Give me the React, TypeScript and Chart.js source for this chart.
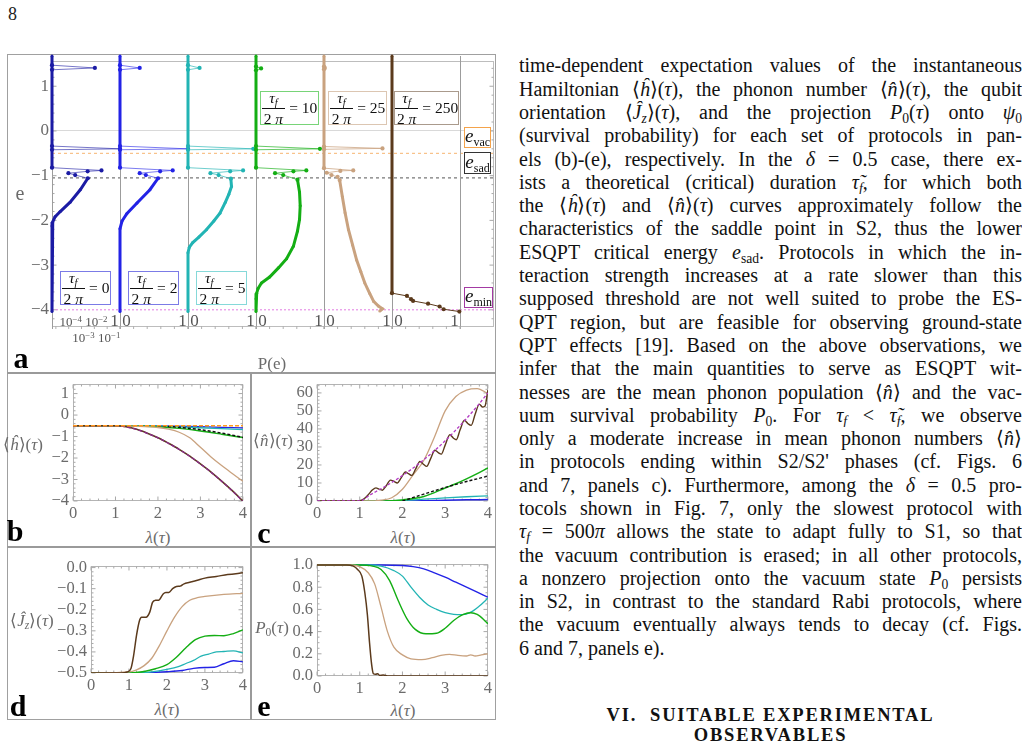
import React, { useEffect, useLayoutEffect, useRef } from "react";
import { Chart, registerables } from "chart.js";

Chart.register(...registerables);

// ---------------------------------------------------------------------------
// Panel a: energy distributions P(e) at the end of each ramp, [P, e] pairs.
// null separates disjoint runs of points.
// ---------------------------------------------------------------------------
const eAxisMin = -4.38;
const eAxisMax = 1.56;
const eVac = -0.5;
const eSad = -1.05;
const eMin = -4.0;
const logFloor = 5e-6;

const dist0Dense = [[logFloor, 1.56], [logFloor, -0.87], null, [3.1e-3, -1.1], [8.0e-4, -1.35], [1.3e-4, -1.62], [2.1e-5, -1.83], [8.6e-6, -1.94], [5.7e-6, -2.05], [logFloor, -2.14], [logFloor, -4.0]];
const dist0Spikes = [[logFloor, 1.36], [0.011, 1.3], [logFloor, 1.26], null, [logFloor, -0.4], [1.0, -0.46], [logFloor, -0.48], null, [logFloor, -0.87], [0.036, -0.93], [0.003, -0.95], [9.5e-5, -0.99], [3.2e-4, -1.03], [3.1e-3, -1.1]];

const dist2Dense = [[0, 1.56], [0, -0.87], null, [0.56, -1.1], [0.44, -1.35], [0.25, -1.64], [0.1, -1.87], [0.03, -2.03], [0, -2.2], [0, -4.0]];
const dist2Spikes = [[0, 1.36], [0.29, 1.3], [0, 1.26], null, [0, -0.4], [1.0, -0.46], [0, -0.48], null, [0, -0.87], [0.775, -0.93], [0.59, -0.95], [0.29, -0.99], [0.38, -1.03], [0.56, -1.1]];

const dist5Dense = [[0, 1.56], [0, -0.87], null, [0.63, -1.11], [0.64, -1.28], [0.6, -1.45], [0.55, -1.62], [0.47, -1.86], [0.38, -2.03], [0.27, -2.22], [0.16, -2.38], [0.07, -2.5], [0.02, -2.6], [0, -2.72], [0, -4.0]];
const dist5Spikes = [[0, 1.36], [0.17, 1.3], [0, 1.26], null, [0, -0.4], [0.96, -0.46], [0, -0.48], null, [0, -0.87], [0.81, -0.93], [0.62, -0.95], [0.33, -0.99], [0.45, -1.03], [0.63, -1.11]];

const dist10Dense = [[0, 1.56], [0, -0.87], null, [0.61, -1.13], [0.64, -1.4], [0.65, -1.7], [0.64, -2.0], [0.61, -2.25], [0.55, -2.58], [0.45, -2.85], [0.33, -3.05], [0.2, -3.25], [0.08, -3.38], [0.03, -3.5], [0.01, -3.6], [0, -3.72], [0, -4.0]];
const dist10Spikes = [[0, 1.33], [0.075, 1.29], [0, 1.25], null, [0, -0.4], [0.94, -0.46], [0, -0.48], null, [0, -0.87], [0.74, -0.93], [0.55, -0.95], [0.28, -0.99], [0.4, -1.03], [0.61, -1.13]];

const dist25Dense = [[0, 1.56], [0, -0.88], null, [0.23, -1.14], [0.27, -1.5], [0.31, -1.85], [0.36, -2.22], [0.42, -2.55], [0.48, -2.88], [0.54, -3.13], [0.6, -3.38], [0.67, -3.6], [0.73, -3.78], [0.8, -3.88], [0.86, -3.94], [0.82, -3.99]];
const dist25Spikes = [[0, 1.33], [0.012, 1.3], [0, 1.27], null, [0, -0.41], [0.86, -0.45], [0, -0.47], null, [0, -0.88], [0.43, -0.93], [0.24, -0.94], [0.04, -0.98], [0.11, -1.03], [0.2, -1.07], [0.23, -1.14]];

const dist250Dense = [[0, 1.56], [0, -3.6]];
const dist250Spikes = [[0, -3.6], [0.22, -3.66], [0.28, -3.73], [0.31, -3.77], [0.53, -3.83], [0.7, -3.89], [0.76, -3.95], [0.99, -4.0]];

// ---------------------------------------------------------------------------
// Panels b-e: observables versus λ(τ), [λ, value] pairs.
// ---------------------------------------------------------------------------
const lambdaTicks = [0, 1, 2, 3, 4];

// b: <h>(τ)
const hTau2 = [[0, -0.5], [1, -0.5], [2, -0.505], [2.5, -0.52], [3, -0.54], [3.5, -0.57], [4, -0.6]];
const hTau5 = [[0, -0.5], [1.5, -0.5], [2, -0.515], [2.5, -0.55], [3, -0.59], [3.5, -0.635], [4, -0.68]];
const hTau10 = [[0, -0.5], [1, -0.5], [1.5, -0.51], [2, -0.54], [2.5, -0.62], [3, -0.74], [3.5, -0.89], [4, -1.05]];
const hTau25 = [[0, -0.5], [1, -0.5], [1.5, -0.52], [2, -0.58], [2.25, -0.66], [2.5, -0.8], [2.75, -1.06], [3, -1.5], [3.25, -1.95], [3.5, -2.35], [3.75, -2.72], [4, -3.08]];
const hTau250 = [[0, -0.5], [1, -0.5], [1.25, -0.545], [1.5, -0.665], [1.75, -0.845], [2, -1.055], [2.25, -1.315], [2.5, -1.595], [2.75, -1.915], [3, -2.275], [3.25, -2.655], [3.5, -3.075], [3.75, -3.52], [4, -4.0]];
const hGround = [[0, -0.5], [1, -0.5], [1.25, -0.55], [1.5, -0.67], [1.75, -0.85], [2, -1.06], [2.25, -1.32], [2.5, -1.6], [2.75, -1.92], [3, -2.28], [3.25, -2.66], [3.5, -3.08], [3.75, -3.53], [4, -4.02]];
const hSaddle = [[2, -0.5], [2.5, -0.57], [3, -0.68], [3.5, -0.84], [4, -1.04]];
const hVacuum = [[0, -0.5], [4, -0.5]];

// c: <n>(τ)
const nTau2 = [[0, 0], [2, 0.05], [2.5, 0.2], [3, 0.45], [3.5, 0.65], [4, 0.8]];
const nTau5 = [[0, 0], [1.5, 0], [2, 0.35], [2.5, 1.0], [3, 1.7], [3.5, 2.35], [4, 2.8]];
const nTau10 = [[0, 0], [1.5, 0.05], [2, 0.6], [2.5, 2.5], [3, 7.2], [3.25, 9.6], [3.5, 12.3], [3.75, 15.2], [4, 18.4]];
const nTau25 = [[0, 0], [1.2, 0], [1.5, 0.5], [1.75, 1.8], [2, 6.5], [2.25, 14.5], [2.5, 22.5], [2.75, 35.5], [3, 50], [3.25, 58], [3.5, 61.6], [3.75, 62.4], [4, 59.6]];
const nTau250 = [[0, 0], [0.8, 0], [1.0, 0.1], [1.1, 1.2], [1.2, 3.5], [1.3, 6.2], [1.38, 7.3], [1.45, 6.6], [1.53, 6.0], [1.62, 8.5], [1.72, 11.6], [1.8, 10.9], [1.88, 10.0], [1.97, 12.8], [2.07, 16.1], [2.14, 15.2], [2.22, 14.2], [2.31, 17.8], [2.41, 21.9], [2.49, 20.4], [2.57, 19.2], [2.66, 23.5], [2.76, 28.2], [2.84, 26.8], [2.91, 26.0], [3.0, 31.0], [3.11, 36.8], [3.19, 35.0], [3.26, 34.0], [3.35, 39.5], [3.45, 44.8], [3.53, 43.0], [3.61, 42.0], [3.7, 48.0], [3.8, 53.8], [3.87, 52.2], [3.93, 52.6], [4.0, 61.5]];
const nGround = [[0, 0], [1, 0], [1.25, 3.5], [1.5, 6.8], [1.75, 10.3], [2, 14.1], [2.25, 18.3], [2.5, 22.9], [2.75, 27.9], [3, 33.4], [3.25, 39.4], [3.5, 45.8], [3.75, 52.6], [4, 60.0]];
const nSaddle = [[2, 0], [2.5, 3.8], [3, 7.5], [3.5, 10.8], [4, 13.8]];

// d: <Jz>(τ)
const jTau2 = [[0, -0.5], [1.5, -0.498], [2, -0.494], [2.4, -0.488], [2.7, -0.478], [3, -0.474], [3.25, -0.473], [3.5, -0.456], [3.75, -0.442], [4, -0.447]];
const jTau5 = [[0, -0.5], [1.2, -0.5], [1.6, -0.495], [2, -0.483], [2.3, -0.47], [2.5, -0.455], [2.7, -0.44], [2.9, -0.42], [3.1, -0.41], [3.3, -0.4], [3.5, -0.398], [3.75, -0.395], [4, -0.405]];
const jTau10 = [[0, -0.5], [1, -0.5], [1.4, -0.493], [1.7, -0.48], [2, -0.46], [2.25, -0.425], [2.5, -0.38], [2.75, -0.342], [3, -0.325], [3.25, -0.322], [3.5, -0.323], [3.75, -0.313], [4, -0.295]];
const jTau25 = [[0, -0.5], [1, -0.495], [1.2, -0.485], [1.4, -0.465], [1.6, -0.43], [1.8, -0.37], [2, -0.3], [2.2, -0.235], [2.4, -0.185], [2.6, -0.155], [2.8, -0.143], [3, -0.137], [3.5, -0.127], [4, -0.122]];
const jTau250 = [[0, -0.5], [0.8, -0.5], [0.95, -0.495], [1.05, -0.48], [1.12, -0.42], [1.2, -0.32], [1.28, -0.25], [1.33, -0.235], [1.45, -0.235], [1.55, -0.21], [1.62, -0.165], [1.7, -0.155], [1.78, -0.155], [1.9, -0.125], [1.97, -0.118], [2.05, -0.118], [2.15, -0.1], [2.25, -0.09], [2.35, -0.088], [2.45, -0.077], [2.6, -0.07], [2.8, -0.06], [3, -0.05], [3.3, -0.042], [3.6, -0.033], [4, -0.025]];

// e: P0(τ)
const pTau2 = [[0, 1], [1.5, 1], [2, 0.995], [2.25, 0.985], [2.5, 0.965], [2.75, 0.93], [3, 0.89], [3.25, 0.845], [3.5, 0.8], [3.75, 0.755], [4, 0.71]];
const pTau5 = [[0, 1], [1.2, 1], [1.5, 0.99], [1.8, 0.95], [2, 0.9], [2.2, 0.8], [2.4, 0.71], [2.6, 0.64], [2.8, 0.6], [3, 0.57], [3.2, 0.555], [3.4, 0.553], [3.6, 0.575], [3.8, 0.63], [4, 0.7]];
const pTau10 = [[0, 1], [1, 1], [1.3, 0.99], [1.5, 0.96], [1.7, 0.86], [1.9, 0.68], [2.1, 0.52], [2.3, 0.42], [2.55, 0.38], [2.8, 0.385], [3, 0.43], [3.2, 0.5], [3.4, 0.55], [3.6, 0.57], [3.75, 0.555], [3.9, 0.51], [4, 0.47]];
const pTau25 = [[0, 1], [0.8, 1], [1, 0.985], [1.2, 0.93], [1.35, 0.83], [1.5, 0.62], [1.65, 0.4], [1.8, 0.26], [2, 0.19], [2.2, 0.155], [2.45, 0.148], [2.7, 0.165], [2.9, 0.185], [3.1, 0.195], [3.3, 0.185], [3.5, 0.18], [3.6, 0.19], [3.7, 0.18], [3.85, 0.19], [4, 0.2]];
const pTau250 = [[0, 1], [0.7, 1], [0.85, 0.99], [0.95, 0.96], [1.05, 0.9], [1.12, 0.75], [1.18, 0.55], [1.23, 0.3], [1.28, 0.1], [1.32, 0.02], [1.37, 0.015], [1.42, 0.02], [1.47, 0.005], [1.55, 0.008], [1.65, 0], [4, 0]];

// ---------------------------------------------------------------------------
const SERIF = "'Liberation Serif', 'Times New Roman', Times, serif";
const TICK_GRAY = "#6b6b6b";
const C_T0 = "#1b1ba4";
const C_T2 = "#2323e6";
const C_T5 = "#22b4b4";
const C_T10 = "#14ae14";
const C_T25 = "#c9a27f";
const C_T250 = "#5b3a1c";
const C_GROUND = "#8a2a8a";
const C_VAC = "#ff9a1f";

const toPoints = (run: any[]) => run.map((p) => (p ? { x: p[0], y: p[1] } : { x: null, y: null }));
const minus = (s: string) => s.replace("-", "\u2212");

// frame with inward major / minor ticks, drawn beneath the curves
const frameTicks = {
  id: "frameTicks",
  beforeDatasetsDraw(chart: any, _args: any, opts: any) {
    const { ctx, chartArea: a, scales } = chart;
    const L = Math.round(a.left) + 0.5;
    const R = Math.round(a.right) - 0.5;
    const T = Math.round(a.top) + 0.5;
    const B = Math.round(a.bottom) - 0.5;
    ctx.save();
    ctx.lineWidth = 1;
    ctx.strokeStyle = opts.frameColor || "#b4b4b4";
    ctx.strokeRect(L, T, R - L, B - T);
    ctx.strokeStyle = "#a8a8a8";
    ctx.beginPath();
    const walk = (scale: any, minor: number, every: number, fn: (px: number, len: number) => void) => {
      const k0 = Math.ceil(scale.min / minor - 1e-6);
      const k1 = Math.floor(scale.max / minor + 1e-6);
      for (let k = k0; k <= k1; k++) {
        const px = scale.getPixelForValue(k * minor);
        fn(px, k % every === 0 ? 4 : 2);
      }
    };
    if (opts.xMinor) {
      walk(scales.x, opts.xMinor, opts.xEvery, (px, len) => {
        ctx.moveTo(px, B); ctx.lineTo(px, B - len);
        ctx.moveTo(px, T); ctx.lineTo(px, T + len);
      });
    }
    if (opts.yMinor) {
      walk(scales.y, opts.yMinor, opts.yEvery, (py, len) => {
        ctx.moveTo(L, py); ctx.lineTo(L + len, py);
        ctx.moveTo(R, py); ctx.lineTo(R - len, py);
      });
    }
    ctx.stroke();
    ctx.restore();
  },
};

// divider line on the left of every distribution strip, plus bottom ticks
const stripFrame = {
  id: "stripFrame",
  beforeDatasetsDraw(chart: any, _args: any, opts: any) {
    const { ctx, chartArea: a, scales } = chart;
    ctx.save();
    ctx.lineWidth = 1;
    ctx.strokeStyle = "#9c9c9c";
    ctx.beginPath();
    const l = Math.round(a.left) + 0.5;
    ctx.moveTo(l, a.top); ctx.lineTo(l, a.bottom);
    if (opts.rightEdge) {
      const r = Math.round(a.right) + 0.5;
      ctx.moveTo(r, a.top); ctx.lineTo(r, a.bottom);
    }
    ctx.stroke();
    ctx.strokeStyle = "#b0b0b0";
    ctx.beginPath();
    for (const v of opts.ticks || []) {
      const px = scales.x.getPixelForValue(v);
      ctx.moveTo(px, a.bottom); ctx.lineTo(px, a.bottom - 3);
    }
    ctx.stroke();
    ctx.restore();
  },
};

function ChartCanvas({ x, y, w, h, make }: { x: number; y: number; w: number; h: number; make: () => any }) {
  const ref = useRef<HTMLCanvasElement>(null);
  useEffect(() => {
    const chart = new Chart(ref.current as HTMLCanvasElement, make());
    return () => chart.destroy();
  }, []);
  return <canvas ref={ref} width={w} height={h} style={{ position: "absolute", left: x, top: y, width: w, height: h }} />;
}

// ---------------------------------------------------------------------------
// panel a
const overlayConfig = () => {
  const ref = (e: number) => [{ x: 0, y: e }, { x: 1, y: e }];
  return {
    type: "line",
    data: {
      datasets: [
        { data: ref(eVac), borderColor: "#f7b470", borderDash: [3, 3], borderWidth: 1, pointRadius: 0 },
        { data: ref(eSad), borderColor: "#555", borderDash: [3, 3], borderWidth: 1, pointRadius: 0 },
        { data: ref(eMin), borderColor: "#e27be2", borderDash: [2, 2], borderWidth: 1, pointRadius: 0 },
      ],
    },
    options: {
      responsive: false,
      animation: false,
      events: [],
      layout: { padding: { top: 8, right: 2, bottom: 11, left: 0 } },
      plugins: { legend: { display: false }, tooltip: { enabled: false }, frameTicks: { yMinor: 0.2, yEvery: 5, frameColor: "#bdbdbd" } },
      scales: {
        x: { type: "linear", min: 0, max: 1, display: false },
        y: {
          type: "linear",
          min: eAxisMin,
          max: eAxisMax,
          afterFit: (s: any) => { s.width = 44; },
          border: { display: false },
          grid: { drawTicks: false, color: (c: any) => (c.tick && c.tick.value === 0 ? "#d9d9d9" : "rgba(0,0,0,0)") },
          ticks: {
            stepSize: 1,
            includeBounds: false,
            autoSkip: false,
            padding: 3,
            color: TICK_GRAY,
            font: { family: SERIF, size: 17 },
            callback: (v: number) => minus(String(v)),
          },
        },
      },
    },
    plugins: [frameTicks],
  };
};

const stripConfig = (s: any) => () => ({
  type: "line",
  data: {
    datasets: [
      {
        data: toPoints(s.spikes),
        borderColor: s.spikeLine,
        borderWidth: 1,
        pointRadius: 2.1,
        pointBorderWidth: 0,
        pointBackgroundColor: s.color,
        clip: 8,
      },
      {
        data: toPoints(s.dense),
        borderColor: s.color,
        borderWidth: 3,
        pointRadius: 1.5,
        pointBorderWidth: 0,
        pointBackgroundColor: s.color,
        clip: 8,
      },
    ],
  },
  options: {
    responsive: false,
    animation: false,
    events: [],
    layout: { padding: 6 },
    plugins: {
      legend: { display: false },
      tooltip: { enabled: false },
      stripFrame: { rightEdge: s.rightEdge, ticks: s.log ? [1e-5, 1e-4, 1e-3, 1e-2, 1e-1, 1] : [0, 0.2, 0.4, 0.6, 0.8, 1] },
    },
    scales: {
      x: s.log ? { type: "logarithmic", min: logFloor, max: 1, display: false } : { type: "linear", min: 0, max: 1, display: false },
      y: { type: "linear", min: eAxisMin, max: eAxisMax, display: false },
    },
  },
  plugins: [stripFrame],
});

const STRIP_W = 68;
const strips = [
  { left: 52, color: C_T0, spikeLine: "rgba(27,27,164,0.6)", log: true, dense: dist0Dense, spikes: dist0Spikes, label: "0", box: { x: 60, y: 271, w: 51, border: "#7b7be6" } },
  { left: 120, color: C_T2, spikeLine: "rgba(35,35,230,0.6)", log: false, dense: dist2Dense, spikes: dist2Spikes, label: "2", box: { x: 128, y: 271, w: 51, border: "#7b7be6" } },
  { left: 188, color: C_T5, spikeLine: "rgba(34,180,180,0.65)", log: false, dense: dist5Dense, spikes: dist5Spikes, label: "5", box: { x: 196, y: 271, w: 51, border: "#86d9d9" } },
  { left: 256, color: C_T10, spikeLine: "rgba(20,174,20,0.65)", log: false, dense: dist10Dense, spikes: dist10Spikes, label: "10", box: { x: 260, y: 91, w: 59, border: "#78d478" } },
  { left: 324, color: C_T25, spikeLine: "rgba(201,162,127,0.75)", log: false, dense: dist25Dense, spikes: dist25Spikes, label: "25", box: { x: 328, y: 91, w: 59, border: "#dcc6b2" } },
  { left: 392, color: C_T250, spikeLine: C_T250, log: false, dense: dist250Dense, spikes: dist250Spikes, label: "250", box: { x: 394, y: 91, w: 65, border: "#aa9a8c" }, rightEdge: true },
];

// ---------------------------------------------------------------------------
// panels b-e
type Series = { data: number[][]; color: string; width?: number; dash?: number[] };

const curveConfig = (p: {
  yAxisW: number; xAxisH: number; padTop: number; padRight: number;
  yMin: number; yMax: number; yStep: number; yMinor: number; yEvery: number; yDigits: number;
  series: Series[];
}) => () => ({
  type: "line",
  data: {
    datasets: p.series.map((s) => ({
      data: toPoints(s.data),
      borderColor: s.color,
      borderWidth: s.width || 1.3,
      borderDash: s.dash || [],
      pointRadius: 0,
      cubicInterpolationMode: "monotone",
    })),
  },
  options: {
    responsive: false,
    animation: false,
    events: [],
    layout: { padding: { top: p.padTop, right: p.padRight, left: 0, bottom: 0 } },
    plugins: { legend: { display: false }, tooltip: { enabled: false }, frameTicks: { xMinor: 0.2, xEvery: 5, yMinor: p.yMinor, yEvery: p.yEvery } },
    scales: {
      x: {
        type: "linear",
        min: lambdaTicks[0],
        max: lambdaTicks[lambdaTicks.length - 1],
        afterFit: (s: any) => { s.height = p.xAxisH; },
        border: { display: false },
        grid: { display: false, drawTicks: false },
        afterBuildTicks: (s: any) => { s.ticks = lambdaTicks.map((v) => ({ value: v })); },
        ticks: { autoSkip: false, maxRotation: 0, padding: 3, color: TICK_GRAY, font: { family: SERIF, size: 16.5 }, callback: (v: number) => String(v) },
      },
      y: {
        type: "linear",
        min: p.yMin,
        max: p.yMax,
        afterFit: (s: any) => { s.width = p.yAxisW; },
        border: { display: false },
        grid: { display: false, drawTicks: false },
        ticks: {
          stepSize: p.yStep,
          includeBounds: false,
          autoSkip: false,
          padding: 4,
          color: TICK_GRAY,
          font: { family: SERIF, size: 16.5 },
          callback: (v: number) => minus(Number(v).toFixed(p.yDigits)),
        },
      },
    },
  },
  plugins: [frameTicks],
});

const panelB = curveConfig({
  yAxisW: 59, xAxisH: 21, padTop: 7, padRight: 6, yMin: -4, yMax: 1.45, yStep: 1, yMinor: 0.2, yEvery: 5, yDigits: 0,
  series: [
    { data: hVacuum, color: C_VAC, dash: [4, 2], width: 1.5 },
    { data: hGround, color: C_GROUND, dash: [4, 2], width: 1.3 },
    { data: hSaddle, color: "#111", dash: [3, 2], width: 1.5 },
    { data: hTau250, color: C_T250, width: 1.6 },
    { data: hTau25, color: C_T25 },
    { data: hTau10, color: C_T10, width: 1.5 },
    { data: hTau5, color: C_T5 },
    { data: hTau2, color: C_T2 },
  ],
});

const panelC = curveConfig({
  yAxisW: 59, xAxisH: 21, padTop: 7, padRight: 5, yMin: 0, yMax: 65, yStep: 10, yMinor: 2, yEvery: 5, yDigits: 0,
  series: [
    { data: nGround, color: "#b33ac4", dash: [3, 2], width: 1.3 },
    { data: nSaddle, color: "#111", dash: [3, 2], width: 1.4 },
    { data: nTau250, color: C_T250, width: 1.4 },
    { data: nTau25, color: C_T25 },
    { data: nTau10, color: C_T10, width: 1.5 },
    { data: nTau5, color: C_T5 },
    { data: nTau2, color: C_T2, width: 1.5 },
  ],
});

const panelD = curveConfig({
  yAxisW: 77, xAxisH: 22, padTop: 7, padRight: 6, yMin: -0.5, yMax: 0.008, yStep: 0.1, yMinor: 0.02, yEvery: 5, yDigits: 1,
  series: [
    { data: jTau250, color: C_T250, width: 1.5 },
    { data: jTau25, color: C_T25 },
    { data: jTau10, color: C_T10, width: 1.4 },
    { data: jTau5, color: C_T5 },
    { data: jTau2, color: C_T2, width: 1.4 },
  ],
});

const panelE = curveConfig({
  yAxisW: 59, xAxisH: 22, padTop: 7, padRight: 5, yMin: 0, yMax: 1.01, yStep: 0.2, yMinor: 0.05, yEvery: 4, yDigits: 1,
  series: [
    { data: pTau250, color: C_T250, width: 1.5 },
    { data: pTau25, color: C_T25 },
    { data: pTau10, color: C_T10, width: 1.4 },
    { data: pTau5, color: C_T5 },
    { data: pTau2, color: C_T2, width: 1.4 },
  ],
});

// ---------------------------------------------------------------------------
// text helpers
function At({ x, y, children, size = 17, color = TICK_GRAY, bold = false, italic = false }: any) {
  return (
    <div
      style={{
        position: "absolute", left: x, top: y, transform: "translate(-50%, -50%)",
        fontFamily: SERIF, fontSize: size, color, fontWeight: bold ? 700 : 400,
        fontStyle: italic ? "italic" : "normal", whiteSpace: "nowrap", lineHeight: 1,
      }}
    >
      {children}
    </div>
  );
}

const subStyle: any = { fontSize: "0.68em", verticalAlign: "-0.28em", lineHeight: 0 };
const supStyle: any = { fontSize: "0.68em", verticalAlign: "0.45em", lineHeight: 0 };
const I = ({ children }: any) => <i>{children}</i>;
const Sub = ({ children }: any) => <span style={subStyle}>{children}</span>;

function TauBox({ x, y, w, border, value }: any) {
  return (
    <div
      style={{
        position: "absolute", left: x, top: y, width: w, height: 34, boxSizing: "border-box",
        border: `1.3px solid ${border}`, background: "#fff", display: "flex", alignItems: "center",
        justifyContent: "center", fontFamily: SERIF, fontSize: 15.5, color: "#111", lineHeight: 1,
        whiteSpace: "nowrap",
      }}
    >
      <div style={{ display: "inline-flex", flexDirection: "column", alignItems: "center", flexShrink: 0 }}>
        <span style={{ paddingBottom: 2 }}><I>τ</I><Sub><I>f</I></Sub></span>
        <span style={{ borderTop: "1px solid #111", padding: "2px 2px 0" }}>2&nbsp;<I>π</I></span>
      </div>
      <span style={{ marginLeft: 4, flexShrink: 0 }}>=&nbsp;{value}</span>
    </div>
  );
}

function EnergyBox({ x, y, w, h, border, sub }: any) {
  return (
    <div
      style={{
        position: "absolute", left: x, top: y, width: w, height: h, boxSizing: "border-box",
        border: `1.3px solid ${border}`, background: "#fff", display: "flex", alignItems: "center",
        justifyContent: "center", fontFamily: SERIF, fontSize: 19, color: "#111", lineHeight: 1,
      }}
    >
      <span><I>e</I><span style={{ fontSize: 12, verticalAlign: "-0.35em" }}>{sub}</span></span>
    </div>
  );
}

const hHat = <><span>⟨</span><I>ĥ</I><span>⟩(</span><I>τ</I><span>)</span></>;
const nHat = <><span>⟨</span><I>n̂</I><span>⟩</span></>;
const nHatTau = <>{nHat}<span>(</span><I>τ</I><span>)</span></>;
const jHat = <><span>⟨</span><I>Ĵ</I><Sub><I>z</I></Sub><span>⟩(</span><I>τ</I><span>)</span></>;
const p0Tau = <><I>P</I><Sub>0</Sub><span>(</span><I>τ</I><span>)</span></>;
const lamTau = <><I>λ</I>(<I>τ</I>)</>;
const tauTilde = <><I>τ̃</I><Sub><I>f</I></Sub></>;
const tauF = <><I>τ</I><Sub><I>f</I></Sub></>;

const bodyLines: any[] = [
  <>time-dependent expectation values of the instantaneous</>,
  <>Hamiltonian {hHat}, the phonon number {nHatTau}, the qubit</>,
  <>orientation {jHat}, and the projection {p0Tau} onto <I>ψ</I><Sub>0</Sub></>,
  <>(survival probability) for each set of protocols in pan-</>,
  <>els (b)-(e), respectively. In the <I>δ</I> = 0.5 case, there ex-</>,
  <>ists a theoretical (critical) duration {tauTilde}, for which both</>,
  <>the {hHat} and {nHatTau} curves approximately follow the</>,
  <>characteristics of the saddle point in S2, thus the lower</>,
  <>ESQPT critical energy <I>e</I><Sub>sad</Sub>. Protocols in which the in-</>,
  <>teraction strength increases at a rate slower than this</>,
  <>supposed threshold are not well suited to probe the ES-</>,
  <>QPT region, but are feasible for observing ground-state</>,
  <>QPT effects [19]. Based on the above observations, we</>,
  <>infer that the main quantities to serve as ESQPT wit-</>,
  <>nesses are the mean phonon population {nHat} and the vac-</>,
  <>uum survival probability <I>P</I><Sub>0</Sub>. For {tauF} &lt; {tauTilde}, we observe</>,
  <>only a moderate increase in mean phonon numbers {nHat}</>,
  <>in protocols ending within S2/S2' phases (cf. Figs. 6</>,
  <>and 7, panels c). Furthermore, among the <I>δ</I> = 0.5 pro-</>,
  <>tocols shown in Fig. 7, only the slowest protocol with</>,
  <>{tauF} = 500<I>π</I> allows the state to adapt fully to S1, so that</>,
  <>the vacuum contribution is erased; in all other protocols,</>,
  <>a nonzero projection onto the vacuum state <I>P</I><Sub>0</Sub> persists</>,
  <>in S2, in contrast to the standard Rabi protocols, where</>,
  <>the vacuum eventually always tends to decay (cf. Figs.</>,
  <>6 and 7, panels e).</>,
];

const LINE_H = 23.3;
const TEXT_W = 503;
const TEXT_SIZE = 20;

// one justified line per row; a line that is naturally wider than the
// column is tightened so it never wraps
function BodyText() {
  const rows = useRef<(HTMLDivElement | null)[]>([]);
  const probes = useRef<(HTMLSpanElement | null)[]>([]);
  useLayoutEffect(() => {
    bodyLines.forEach((_, i) => {
      const probe = probes.current[i];
      const row = rows.current[i];
      if (!probe || !row) return;
      const w = probe.getBoundingClientRect().width;
      const n = (probe.textContent || "").length || 1;
      if (w > TEXT_W - 2) row.style.letterSpacing = `${-(w - TEXT_W + 3) / n}px`;
    });
  }, []);
  return (
    <>
      <div style={{ position: "absolute", left: -5000, top: 0, visibility: "hidden", fontSize: TEXT_SIZE, fontFamily: SERIF }}>
        {bodyLines.map((ln, i) => (
          <div key={i}><span ref={(el) => { probes.current[i] = el; }} style={{ whiteSpace: "nowrap" }}>{ln}</span></div>
        ))}
      </div>
      <div style={{ position: "absolute", left: 519, top: 66 - LINE_H / 2, width: TEXT_W, fontSize: TEXT_SIZE, color: "#111", lineHeight: `${LINE_H}px`, fontFamily: SERIF }}>
        {bodyLines.map((ln, i) => (
          <div
            key={i}
            ref={(el) => { rows.current[i] = el; }}
            style={{
              height: LINE_H, overflow: "hidden", textAlign: "justify",
              textAlignLast: i === bodyLines.length - 1 ? "left" : "justify",
            }}
          >
            {ln}
          </div>
        ))}
      </div>
    </>
  );
}

function Rule({ x, y, w, h }: any) {
  return <div style={{ position: "absolute", left: x, top: y, width: w, height: h, background: "#9a9a9a" }} />;
}

export default function App() {
  const logPos = (v: number) => 52 + ((Math.log10(v) - Math.log10(logFloor)) / -Math.log10(logFloor)) * STRIP_W;
  return (
    <div style={{ position: "fixed", left: 0, top: 0, width: 1029, height: 749, background: "#fff", overflow: "hidden", fontFamily: SERIF }}>
      {/* page number */}
      <div style={{ position: "absolute", left: 8, top: 4, fontSize: 18, color: "#222" }}>8</div>

      {/* figure frame */}
      <div style={{ position: "absolute", left: 7, top: 54, width: 489, height: 666, border: "1.5px solid #a0a0a0", boxSizing: "border-box" }} />
      <Rule x={7} y={372} w={489} h={1.5} />
      <Rule x={7} y={546} w={489} h={1.5} />
      <Rule x={250} y={372} w={1.5} h={348} />

      {/* panel a */}
      <ChartCanvas x={8} y={48} w={488} h={292} make={overlayConfig} />
      {strips.map((s) => (
        <ChartCanvas key={s.label} x={s.left - 6} y={50} w={STRIP_W + 12} h={285} make={stripConfig(s)} />
      ))}
      {strips.map((s) => (
        <TauBox key={"b" + s.label} x={s.box.x} y={s.box.y} w={s.box.w} border={s.box.border} value={s.label} />
      ))}
      <EnergyBox x={464} y={127} w={27} h={21} border="#f4a34b" sub="vac" />
      <EnergyBox x={464} y={152} w={27} h={22} border="#333" sub="sad" />
      <EnergyBox x={464} y={287} w={29} h={21} border="#a33aa3" sub="min" />

      {/* strip tick labels */}
      <At x={logPos(1e-4) + 2} y={321} size={13} color="#555">10<span style={supStyle}>−4</span></At>
      <At x={logPos(1e-2) + 2} y={321} size={13} color="#555">10<span style={supStyle}>−2</span></At>
      <At x={logPos(1e-3) + 2} y={337} size={13} color="#555">10<span style={supStyle}>−3</span></At>
      <At x={logPos(1e-1) + 2} y={337} size={13} color="#555">10<span style={supStyle}>−1</span></At>
      {strips.map((s) => (
        <React.Fragment key={"t" + s.label}>
          {!s.log && <At x={s.left + 6.5} y={320} size={17} color="#555">0</At>}
          <At x={s.left + STRIP_W - 5.5} y={320} size={17} color="#555">1</At>
        </React.Fragment>
      ))}
      <At x={20} y={193} size={20}>e</At>
      <At x={272} y={363} size={17}>P(e)</At>
      <At x={21} y={358} size={30} bold color="#000">a</At>

      {/* panels b-e */}
      <ChartCanvas x={14} y={370} w={236} h={152} make={panelB} />
      <ChartCanvas x={258} y={370} w={237} h={152} make={panelC} />
      <ChartCanvas x={14} y={552} w={236} h={143} make={panelD} />
      <ChartCanvas x={258} y={550} w={237} h={148} make={panelE} />

      <At x={23} y={444} size={17}>{hHat}</At>
      <At x={158} y={537} size={17}>{lamTau}</At>
      <At x={15} y={531} size={30} bold color="#000">b</At>

      <At x={273} y={440} size={17}>{nHatTau}</At>
      <At x={403} y={537} size={17}>{lamTau}</At>
      <At x={264} y={533} size={30} bold color="#000">c</At>

      <At x={32} y={620} size={17}>{jHat}</At>
      <At x={167} y={709} size={17}>{lamTau}</At>
      <At x={18} y={706} size={30} bold color="#000">d</At>

      <At x={272} y={627} size={17}>{p0Tau}</At>
      <At x={403} y={710} size={17}>{lamTau}</At>
      <At x={264} y={706} size={30} bold color="#000">e</At>

      {/* body text */}
      <BodyText />
      <div style={{ position: "absolute", left: 519, width: TEXT_W, top: 705, textAlign: "center", fontSize: 18.5, fontWeight: 700, letterSpacing: 1.8, lineHeight: "20px", color: "#111" }}>
        VI.&nbsp;&nbsp;SUITABLE EXPERIMENTAL
        <br />
        OBSERVABLES
      </div>
    </div>
  );
}
